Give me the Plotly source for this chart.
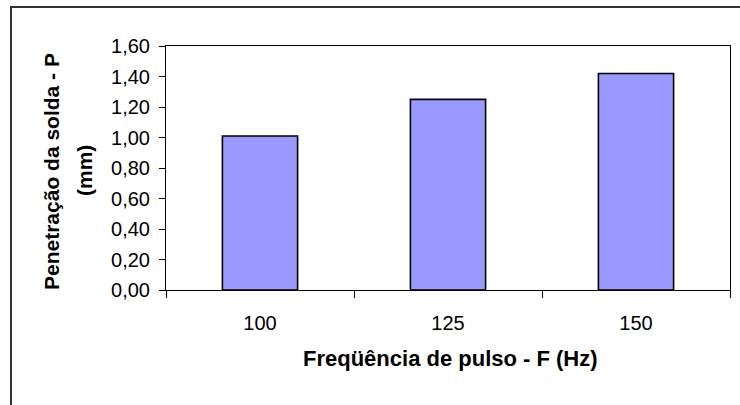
import plotly.graph_objects as go

# ---- data ----
frequencias = ["100", "125", "150"]
penetracao = [1.01, 1.25, 1.42]
y_ticks = [0.0, 0.2, 0.4, 0.6, 0.8, 1.0, 1.2, 1.4, 1.6]

x_title = "Freqüência de pulso - F (Hz)"
y_title_1 = "Penetração da solda - P"
y_title_2 = "(mm)"

# ---- layout constants (pixels) ----
W, H = 740, 405
L, R, T, B = 166, 10, 46, 115
PW, PH = W - L - R, H - T - B


def px(xp):
    return (xp - L) / PW


def py(yp):
    return (H - B - yp) / PH


FONT = "Liberation Sans, Arial, sans-serif"

fig = go.Figure(
    go.Bar(
        x=frequencias,
        y=penetracao,
        marker=dict(color="#9999FF", line=dict(color="#000000", width=1.6)),
    )
)

fig.update_layout(
    width=W,
    height=H,
    margin=dict(l=L, r=R, t=T, b=B),
    paper_bgcolor="white",
    plot_bgcolor="white",
    separators=",.",
    bargap=0.6,
    showlegend=False,
    font=dict(family=FONT, color="black", size=20),
)

fig.update_xaxes(
    type="category",
    showline=True,
    linecolor="black",
    linewidth=1,
    mirror=True,
    ticks="outside",
    tickson="boundaries",
    ticklen=7,
    tickcolor="black",
    showgrid=False,
    tickfont=dict(size=20, family=FONT),
    ticklabelstandoff=15,
)

fig.update_yaxes(
    range=[0, 1.6],
    tickvals=y_ticks,
    tickformat=".2f",
    showline=True,
    linecolor="black",
    linewidth=1,
    mirror=True,
    ticks="outside",
    ticklen=6,
    tickcolor="black",
    showgrid=False,
    zeroline=False,
    tickfont=dict(size=20, family=FONT),
    ticklabelstandoff=5,
)

# titles
fig.add_annotation(
    text=f"<b>{x_title}</b>", xref="paper", yref="paper",
    x=px(450), y=py(358), xanchor="center", yanchor="middle",
    showarrow=False, font=dict(size=22, family=FONT, color="black"),
)
fig.add_annotation(
    text=f"<b>{y_title_1}</b>", xref="paper", yref="paper",
    x=px(51), y=py(172), xanchor="center", yanchor="middle", textangle=-90,
    showarrow=False, font=dict(size=21, family=FONT, color="black"),
)
fig.add_annotation(
    text=f"<b>{y_title_2}</b>", xref="paper", yref="paper",
    x=px(84), y=py(171), xanchor="center", yanchor="middle", textangle=-90,
    showarrow=False, font=dict(size=21, family=FONT, color="black"),
)

# outer chart border (left and top visible)
fig.add_shape(
    type="rect", xref="paper", yref="paper",
    x0=px(11), x1=px(W + 10), y0=py(H + 10), y1=py(7),
    line=dict(color="#333333", width=2), fillcolor="rgba(0,0,0,0)",
    layer="below",
)

fig.write_html(
    "out.html",
    config={"displayModeBar": False},
    post_script="document.body.style.margin='0';",
)
